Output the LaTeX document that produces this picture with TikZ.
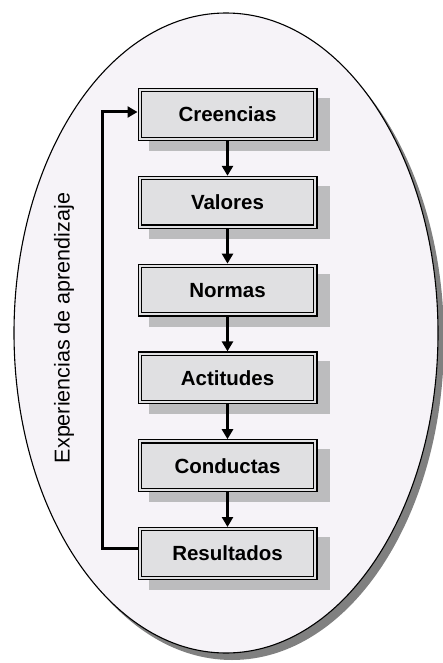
\documentclass[tikz,border=0pt]{standalone}
\usepackage{fontspec}
\setmainfont{Liberation Sans}
\usetikzlibrary{arrows.meta,backgrounds}
\definecolor{ellfill}{RGB}{246,243,248}
\definecolor{ellshadow}{RGB}{128,128,128}
\definecolor{boxfill}{RGB}{224,224,226}
\definecolor{boxshadow}{RGB}{188,188,190}
\begin{document}
\begin{tikzpicture}[x=1pt,y=-1pt,
  stagebox/.style={draw=black, line width=1.2pt, double=boxfill, double distance=2pt,
    fill=boxfill, minimum width=175.6pt, minimum height=48.6pt, inner sep=0pt, outer sep=2.2pt,
    font=\fontsize{20.5}{24}\selectfont\bfseries},
  flow/.style={line width=3pt, -{Triangle[length=10pt,width=11pt]}},
  boxshade/.style={fill=boxshadow},
]
\useasboundingbox (0,0) rectangle (442,663);
% stages
\node[stagebox] (cre) at (227.5,114.5) {Creencias};
\node[stagebox] (val) at (227.5,202.3) {Valores};
\node[stagebox] (nor) at (227.5,290.1) {Normas};
\node[stagebox] (act) at (227.5,377.9) {Actitudes};
\node[stagebox] (con) at (227.5,465.7) {Conductas};
\node[stagebox] (res) at (227.5,553.5) {Resultados};
\begin{scope}[on background layer]
  % ellipse with shadow
  \fill[ellshadow] (232,340) ellipse [x radius=212pt, y radius=320pt];
  \draw[fill=ellfill, line width=1.1pt] (226,333) ellipse [x radius=212pt, y radius=320pt];
  % box shadows
  \foreach \n in {cre,val,nor,act,con,res}{
    \fill[boxshade] ([xshift=11pt,yshift=-10pt]\n.south west) rectangle ([xshift=12pt,yshift=-10pt]\n.north east);
  }
\end{scope}
% vertical label
\node[rotate=90, font=\fontsize{21.5}{25}\selectfont] (exp) at (64,328) {Experiencias de aprendizaje};
% arrows
\draw[flow] (cre) -- (val);
\draw[flow] (val) -- (nor);
\draw[flow] (nor) -- (act);
\draw[flow] (act) -- (con);
\draw[flow] (con) -- (res);
\coordinate (fbt) at (102,112);
\draw[flow] ([yshift=5.5pt]res.west) -| (fbt) -- ([yshift=2.5pt]cre.west);
\end{tikzpicture}
\end{document}
